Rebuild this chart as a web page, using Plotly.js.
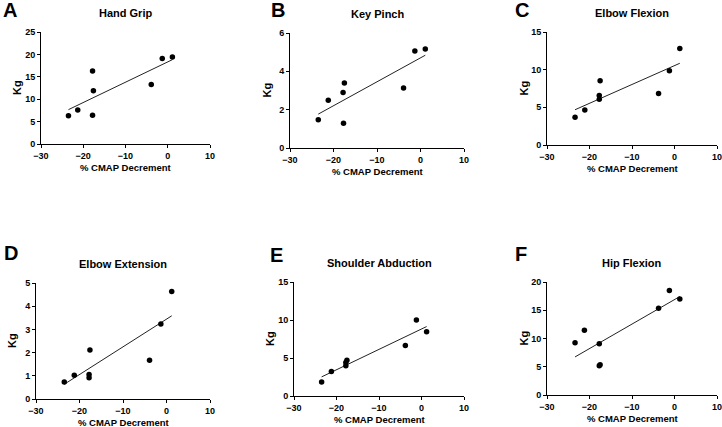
<!DOCTYPE html>
<html>
<head>
<meta charset="utf-8">
<script src="https://cdn.plot.ly/plotly-3.0.1.min.js"></script>
<style>
  html, body { margin: 0; padding: 0; background: #fff; }
  #chart { width: 722px; height: 427px; }
</style>
</head>
<body>
<div id="chart"></div>
<script>
// values: % CMAP decrement (x) vs strength in Kg (y)
const panelLetters = ['A', 'B', 'C', 'D', 'E', 'F'];
const panelTitles = ['Hand Grip', 'Key Pinch', 'Elbow Flexion', 'Elbow Extension', 'Shoulder Abduction', 'Hip Flexion'];
const xTicks = [-30, -20, -10, 0, 10];

const xA = [-23.5, -21.3, -17.8, -17.6, -17.8, -3.9, -1.3, 1.1];
const yA = [6.3, 7.6, 16.3, 11.9, 6.4, 13.3, 19.1, 19.4];
const xB = [-23.5, -21.2, -17.5, -17.8, -17.7, -3.9, -1.3, 1.1];
const yB = [1.48, 2.49, 3.39, 2.90, 1.29, 3.13, 5.06, 5.17];
const xC = [-23.4, -21.1, -17.5, -17.7, -17.7, -3.75, -1.2, 1.25];
const yC = [3.7, 4.66, 8.53, 6.56, 6.07, 6.82, 9.85, 12.8];
const xD = [-23.5, -21.2, -17.6, -17.8, -17.8, -3.9, -1.3, 1.2];
const yD = [0.73, 1.02, 2.11, 1.06, 0.92, 1.67, 3.23, 4.63];
const xE = [-23.5, -21.2, -17.55, -17.8, -17.8, -3.8, -1.2, 1.2];
const yE = [1.85, 3.22, 4.7, 4.4, 3.97, 6.66, 10.0, 8.47];
const xF = [-23.4, -21.2, -17.7, -17.5, -17.7, -3.75, -1.2, 1.25];
const yF = [9.26, 11.45, 9.09, 5.37, 5.19, 15.34, 18.5, 17.0];

const yMax = [25, 6, 15, 5, 15, 20];
const yStep = [5, 2, 5, 1, 5, 5];

const W = 722, H = 427;
// plot boxes in px: [left, right, top, bottom]
const boxes = [
  [41, 210, 32, 144], [290, 464, 33, 148], [547, 717, 32, 145],
  [36, 210, 283, 399], [294, 464, 282, 396], [547, 717, 282, 395],
];
const letterPos = [[1, 10], [269, 10], [513, 10], [2, 253], [268, 255], [513, 254]];

const FONT = 'Arial, "Liberation Sans", sans-serif';
const px = v => v / W;
const py = v => 1 - v / H;

function fitLine(xs, ys) {
  const n = xs.length;
  const mx = xs.reduce((a, b) => a + b, 0) / n;
  const my = ys.reduce((a, b) => a + b, 0) / n;
  let sxy = 0, sxx = 0;
  xs.forEach((x, i) => { sxy += (x - mx) * (ys[i] - my); sxx += (x - mx) * (x - mx); });
  const b = sxy / sxx;
  const x0 = Math.min(...xs), x1 = Math.max(...xs);
  return { x: [x0, x1], y: [my + b * (x0 - mx), my + b * (x1 - mx)] };
}

const xs = [xA, xB, xC, xD, xE, xF];
const ys = [yA, yB, yC, yD, yE, yF];
const traces = [];
const layout = {
  width: W, height: H,
  margin: { l: 0, r: 0, t: 0, b: 0 },
  paper_bgcolor: '#fff', plot_bgcolor: '#fff',
  showlegend: false,
  font: { family: FONT, color: '#000' },
  annotations: [],
};

xs.forEach((xv, i) => {
  const k = i === 0 ? '' : String(i + 1);
  const [l, r, t, b] = boxes[i];
  const fit = fitLine(xv, ys[i]);
  traces.push({
    type: 'scatter', mode: 'lines', x: fit.x, y: fit.y,
    xaxis: 'x' + k, yaxis: 'y' + k,
    line: { color: '#222', width: 1 }, hoverinfo: 'skip',
  });
  traces.push({
    type: 'scatter', mode: 'markers', x: xv, y: ys[i],
    xaxis: 'x' + k, yaxis: 'y' + k, cliponaxis: false,
    marker: { color: '#000', size: 5.5 },
  });
  const common = {
    showline: true, linecolor: '#000', linewidth: 1,
    showgrid: false, zeroline: false,
    ticks: 'outside', ticklen: 3, tickwidth: 1, tickcolor: '#000',
    ticklabeloverflow: 'allow',
    tickfont: { family: FONT, size: 9, weight: 'bold', color: '#000' },
  };
  layout['xaxis' + k] = Object.assign({}, common, {
    domain: [px(l), px(r)], anchor: 'y' + k,
    range: [-30, 10], tickvals: xTicks,
  });
  layout['yaxis' + k] = Object.assign({}, common, {
    domain: [py(b), py(t)], anchor: 'x' + k,
    range: [0, yMax[i]], dtick: yStep[i], tick0: 0,
  });
  const cx = (l + r) / 2;
  layout.annotations.push(
    { text: panelTitles[i], x: px(cx), y: py(t - 19), xref: 'paper', yref: 'paper',
      xanchor: 'center', yanchor: 'middle', showarrow: false,
      font: { family: FONT, size: 11, weight: 'bold' } },
    { text: '% CMAP Decrement', x: px(cx), y: py(b + 23), xref: 'paper', yref: 'paper',
      xanchor: 'center', yanchor: 'middle', showarrow: false,
      font: { family: FONT, size: 9.5, weight: 'bold' } },
    { text: 'Kg', x: px(l - 24), y: py((t + b) / 2), xref: 'paper', yref: 'paper',
      xanchor: 'center', yanchor: 'middle', textangle: -90, showarrow: false,
      font: { family: FONT, size: 11, weight: 'bold' } },
    { text: panelLetters[i], x: px(letterPos[i][0]), y: py(letterPos[i][1]), xref: 'paper', yref: 'paper',
      xanchor: 'left', yanchor: 'middle', showarrow: false,
      font: { family: FONT, size: 20, weight: 'bold' } }
  );
});

Plotly.newPlot('chart', traces, layout, { displayModeBar: false, staticPlot: true });
</script>
</body>
</html>
